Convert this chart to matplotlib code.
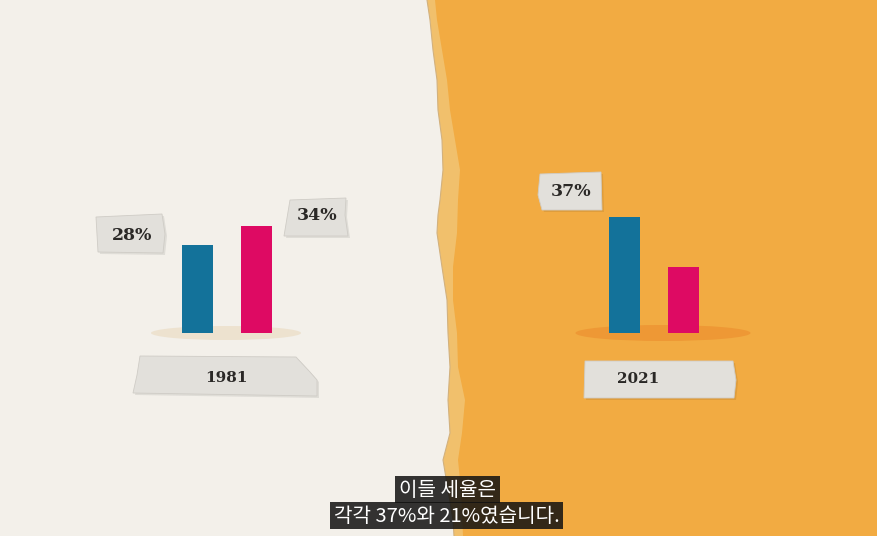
import matplotlib
matplotlib.use('Agg')
import matplotlib.pyplot as plt
from matplotlib.patches import Polygon, Ellipse, Rectangle

# data
years = ['1981', '2021']
blue_vals = [28, 37]
pink_vals = [34, 21]
shown_labels = [('1981', 0, 28), ('1981', 1, 34), ('2021', 0, 37)]
subtitle = ['이들 세율은', '각각 37%와 21%였습니다.']

CREAM = '#F3F0EA'
ORANGE = '#F2AB42'
TORN = '#F1C06C'
BLUE = '#13729A'
PINK = '#DE0A63'
TAPE = '#E2E0DB'
INK = '#2A2826'

W, H = 877, 536
fig = plt.figure(figsize=(W / 100, H / 100), dpi=100)
fig.patch.set_facecolor(ORANGE)
ax = fig.add_axes([0, 0, 1, 1])
ax.set_xlim(0, W)
ax.set_ylim(H, 0)
ax.axis('off')

# torn paper edge (cream over orange)
edge = [(427, 0), (430, 20), (433, 50), (437, 80), (438, 110), (442, 140), (443, 170),
        (440, 200), (438, 215), (437, 233), (442, 267), (447, 300), (448, 333),
        (450, 367), (448, 400), (450, 433), (443, 460), (448, 490), (453, 520), (454, 536)]
strip = [(435, 0), (437, 20), (442, 50), (447, 80), (450, 110), (455, 140), (460, 170),
         (458, 200), (457, 233), (453, 267), (453, 300), (457, 333), (458, 367),
         (465, 400), (462, 433), (458, 460), (461, 490), (463, 536)]
ax.add_patch(Polygon([(-5, -5)] + strip + [(-5, H + 5)], closed=True, fc=TORN, ec='none', zorder=1))
ax.add_patch(Polygon([(-5, -5)] + edge + [(-5, H + 5)], closed=True, fc=CREAM, ec='none', zorder=2))
ax.plot([p[0] for p in edge], [p[1] for p in edge], color='#D2B17E', lw=0.8, zorder=2)

# shadows under bars
ax.add_patch(Ellipse((226, 333), 150, 14, fc='#EDE2CF', ec='none', zorder=3))
ax.add_patch(Ellipse((663, 333), 175, 16, fc='#EE9835', ec='none', zorder=3))

# bar charts: inset axes with the same scale for both years
px_per_pct = 3.14
ymax = 40
chart_left = [168, 595]
baseline = 333
for i, yr in enumerate(years):
    cax = fig.add_axes([chart_left[i] / W, (H - baseline) / H, 118 / W,
                        ymax * px_per_pct / H])
    cax.set_xlim(-0.5, 1.5)
    cax.set_ylim(0, ymax)
    cax.axis('off')
    cax.patch.set_alpha(0)
    cax.bar([0, 1], [blue_vals[i], pink_vals[i]], width=0.525,
            color=[BLUE, PINK], edgecolor='none')

# tapes
def tape(pts):
    sh = [(x + 2, y + 2) for x, y in pts]
    ax.add_patch(Polygon(sh, closed=True, fc='#000000', alpha=0.08, ec='none', zorder=4))
    ax.add_patch(Polygon(pts, closed=True, fc=TAPE, ec='#CFCCC6', lw=0.6, zorder=5))

pct_tapes = [
    [(96, 217), (162, 214), (165, 234), (163, 253), (98, 252)],
    [(290, 200), (346, 198), (345, 215), (348, 236), (284, 236)],
    [(540, 174), (601, 172), (602, 210), (542, 210), (538, 195)],
]
pct_pos = [(132, 236), (317, 216), (571, 191)]
for (yr, k, v), pts, (tx, ty) in zip(shown_labels, pct_tapes, pct_pos):
    tape(pts)
    ax.text(tx, ty, f'{v}%', ha='center', va='center', fontsize=12.5,
            family='DejaVu Serif', weight='heavy', color=INK, zorder=6)

year_tapes = [
    [(140, 356), (296, 357), (310, 372), (317, 380), (317, 396), (133, 393), (137, 375)],
    [(585, 361), (733, 361), (736, 380), (734, 398), (584, 398)],
]
year_pos = [(226, 378), (638, 379)]
for yr, pts, (tx, ty) in zip(years, year_tapes, year_pos):
    tape(pts)
    ax.text(tx, ty, yr, ha='center', va='center', fontsize=11,
            family='DejaVu Serif', weight='heavy', color=INK, zorder=6)

# subtitles
boxes = [(395, 476, 105, 27), (330, 502, 233, 27)]
for line, (bx, by, bw, bh) in zip(subtitle, boxes):
    ax.add_patch(Rectangle((bx, by), bw, bh, fc='#111111', alpha=0.85, ec='none', zorder=8))
    ax.text(bx + bw / 2, by + bh / 2 + 1, line, ha='center', va='center', fontsize=14.5,
            family=['Noto Sans CJK KR', 'DejaVu Sans'], color='white', zorder=9)

fig.savefig('out.png', dpi=100, facecolor=fig.get_facecolor())
